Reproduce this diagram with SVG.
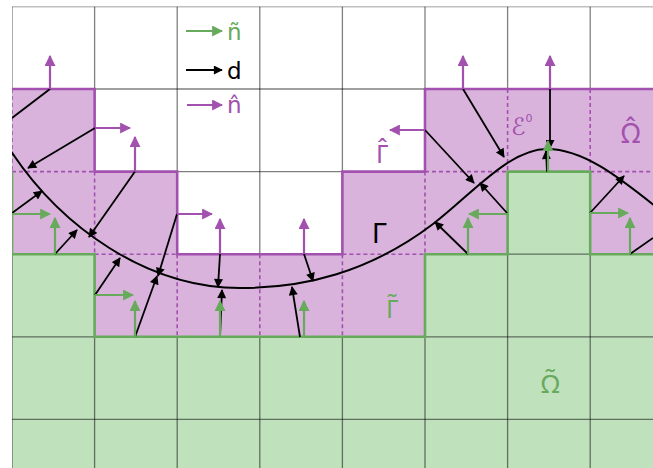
<svg xmlns="http://www.w3.org/2000/svg" width="653" height="468" viewBox="0 0 653 468">
<style>
.grid{stroke:#000;stroke-opacity:0.5;stroke-width:1.3;fill:none}
.dash{stroke:#a251ae;stroke-width:1.6;stroke-dasharray:4 3;fill:none}
.gh{stroke:#a251ae;stroke-width:2.6;fill:none}
.gt{stroke:#68aa5c;stroke-width:2.6;fill:none}
.d{stroke:#000;stroke-width:1.8;fill:none;marker-end:url(#hb)}
.dn{stroke:#000;stroke-width:1.8;fill:none}
.nt{stroke:#68aa5c;stroke-width:2.2;fill:none;marker-end:url(#hg)}
.nh{stroke:#a251ae;stroke-width:2.2;fill:none;marker-end:url(#hp)}
.lab{font-family:"DejaVu Sans","Liberation Sans",sans-serif}
.gk{font-family:"Noto Sans","DejaVu Sans",sans-serif}
</style>
<defs>
<marker id="hb" viewBox="0 0 10 10" refX="9" refY="5" markerWidth="11" markerHeight="9" markerUnits="userSpaceOnUse" orient="auto"><path d="M0,0 L10,5 L0,10 z" fill="#000"/></marker>
<marker id="hg" viewBox="0 0 10 10" refX="9" refY="5" markerWidth="11" markerHeight="11" markerUnits="userSpaceOnUse" orient="auto"><path d="M0,0 L10,5 L0,10 z" fill="#68aa5c"/></marker>
<marker id="hp" viewBox="0 0 10 10" refX="9" refY="5" markerWidth="11" markerHeight="11" markerUnits="userSpaceOnUse" orient="auto"><path d="M0,0 L10,5 L0,10 z" fill="#a251ae"/></marker>
<clipPath id="clip"><rect x="12" y="6.5" width="641" height="462"/></clipPath>
</defs>
<rect width="653" height="468" fill="#fff"/>
<g clip-path="url(#clip)">
<g id="regions">
<path id="omega-tilde" d="M12,254.2 H94.6 V336.8 H425 V254.2 H507.6 V171.6 H590.2 V254.2 H653 V468 H12 Z" fill="#bfe1bc"/>
</g>
<g id="grid" class="grid">
<path d="M12,6.5 V468 M94.6,6.5 V468 M177.2,6.5 V468 M259.8,6.5 V468 M342.4,6.5 V468 M425,6.5 V468 M507.6,6.5 V468 M590.2,6.5 V468"/>
<path d="M12,6.5 H653 M12,89 H653 M12,171.6 H653 M12,254.2 H653 M12,336.8 H653 M12,419.4 H653"/>
</g>
<g id="omega-hat">
<path d="M12,89 H94.6 V171.6 H177.2 V254.2 H342.4 V171.6 H425 V89 H653 V254.2 H590.2 V171.6 H507.6 V254.2 H425 V336.8 H94.6 V254.2 H12 Z" fill="#d9b3dc"/>
<path class="dash" d="M12,89 V171.6 M12,171.6 H94.6 M94.6,171.6 V254.2 M94.6,254.2 H177.2 M177.2,254.2 V336.8 M259.8,254.2 V336.8 M342.4,254.2 V336.8 M342.4,254.2 H425 M425,171.6 V254.2 M425,171.6 H507.6 M507.6,89 V171.6 M590.2,89 V171.6 M590.2,171.6 H653"/>
</g>
<g id="boundaries">
<path id="gamma-hat" class="gh" d="M12,89 H94.6 V171.6 H177.2 V254.2 H342.4 V171.6 H425 V89 H653"/>
<path id="gamma-tilde" class="gt" d="M12,171.6 V254.2 H94.6 V336.8 H425 V254.2 H507.6 V171.6 H590.2 V254.2 H653"/>
</g>
<g id="curve-gamma">
<path d="M5,142 C60,230 150,288 240,288 C304,288 369,272.6 433,224 C471,195 509,149 547,149 C585,149 622,180 660,210" stroke="#000" stroke-width="2" fill="none"/>
</g>
<g id="connectors">
<g id="d-vectors">
<line class="dn" x1="50" y1="89" x2="12" y2="118"/>
<line class="d" x1="95" y1="128" x2="28" y2="168"/>
<line class="d" x1="12" y1="213" x2="42" y2="191"/>
<line class="d" x1="55" y1="254" x2="77" y2="230"/>
<line class="d" x1="135" y1="171.6" x2="89" y2="237"/>
<line class="d" x1="95" y1="295" x2="120" y2="258"/>
<line class="d" x1="135" y1="337" x2="157" y2="276"/>
<line class="d" x1="177" y1="214" x2="158" y2="276"/>
<line class="d" x1="220" y1="254" x2="218" y2="287"/>
<line class="d" x1="220" y1="337" x2="222" y2="290"/>
<line class="d" x1="304" y1="254" x2="313" y2="281"/>
<line class="d" x1="300" y1="337" x2="292" y2="287"/>
<line class="d" x1="463" y1="89" x2="504" y2="157"/>
<line class="d" x1="425" y1="130" x2="474" y2="183"/>
<line class="d" x1="507" y1="213" x2="480" y2="183"/>
<line class="d" x1="468" y1="254" x2="435" y2="222"/>
<line class="d" x1="550" y1="89" x2="550" y2="148"/>
<line class="d" x1="547" y1="171.6" x2="546" y2="151"/>
<line class="d" x1="590" y1="213" x2="624" y2="176"/>
<line class="dn" x1="630" y1="254" x2="653" y2="238"/>
</g>
<g id="n-tilde">
<line class="nt" x1="12" y1="214" x2="50" y2="214"/>
<line class="nt" x1="55" y1="254" x2="55" y2="218"/>
<line class="nt" x1="95" y1="295" x2="133" y2="295"/>
<line class="nt" x1="135" y1="337" x2="135" y2="301"/>
<line class="nt" x1="220" y1="337" x2="220" y2="301"/>
<line class="nt" x1="304" y1="337" x2="304" y2="301"/>
<line class="nt" x1="468" y1="254" x2="468" y2="218"/>
<line class="nt" x1="507" y1="214" x2="469" y2="214"/>
<line class="nt" x1="548" y1="171.6" x2="548" y2="141"/>
<line class="nt" x1="590" y1="213" x2="628" y2="213"/>
<line class="nt" x1="630" y1="254" x2="630" y2="218"/>
</g>
<g id="n-hat">
<line class="nh" x1="50" y1="89" x2="50" y2="56"/>
<line class="nh" x1="95" y1="128" x2="130" y2="128"/>
<line class="nh" x1="135" y1="171.6" x2="135" y2="137"/>
<line class="nh" x1="177" y1="214" x2="212" y2="214"/>
<line class="nh" x1="220" y1="254" x2="220" y2="219"/>
<line class="nh" x1="304" y1="254" x2="304" y2="219"/>
<line class="nh" x1="425" y1="130" x2="390" y2="130"/>
<line class="nh" x1="463" y1="89" x2="463" y2="56"/>
<line class="nh" x1="550" y1="89" x2="550" y2="56"/>
</g>
</g>
</g>
<g id="legend">
<line class="nt" x1="186" y1="31" x2="222" y2="31"/>
<text class="lab" x="227" y="40" font-size="23" fill="#68aa5c">ñ</text>
<line class="d" x1="186" y1="70" x2="222" y2="70"/>
<text class="lab" x="227" y="79" font-size="23" fill="#000">d</text>
<line class="nh" x1="187" y1="105" x2="222" y2="105"/>
<text class="lab" x="227" y="113" font-size="23" fill="#a251ae">n̂</text>
</g>
<g id="labels">
<text class="gk" x="376" y="163" font-size="25" fill="#a251ae">Γ<tspan x="382.5" y="158" text-anchor="middle">ˆ</tspan></text>
<text class="lab" x="372" y="243" font-size="26" fill="#000">Γ</text>
<text class="gk" x="386" y="318" font-size="25" fill="#68aa5c">Γ<tspan x="392" y="313" text-anchor="middle">˜</tspan></text>
<text class="lab" x="511" y="135" font-size="24" fill="#a251ae">ℰ<tspan font-size="11" dy="-13">0</tspan></text>
<text class="gk" x="621" y="143" font-size="27" fill="#a251ae">Ω̂</text>
<text class="gk" x="541" y="393" font-size="26" fill="#68aa5c">Ω̃</text>
</g>
</svg>
